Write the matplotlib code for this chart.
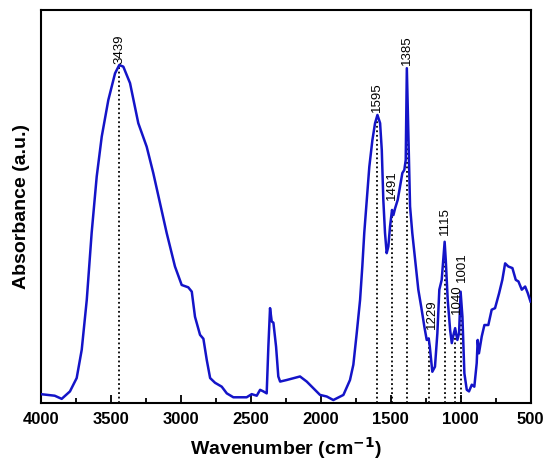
import numpy as np
import matplotlib
matplotlib.use('Agg')
import matplotlib.pyplot as plt

plt.rcParams['font.family'] = ['Liberation Sans', 'DejaVu Sans']

# spectrum (wavenumber, absorbance a.u.)
wavenumber = np.array([
    4000, 3900, 3850, 3791, 3743, 3707, 3671, 3636, 3600, 3564, 3517, 3469,
    3439, 3410, 3362, 3303, 3243, 3196, 3148, 3100, 3041, 2993, 2946, 2921,
    2898, 2862, 2838, 2814, 2790, 2755, 2707, 2671, 2624, 2529, 2493, 2457,
    2433, 2410, 2386, 2374, 2362, 2350, 2338, 2319, 2303, 2290, 2243, 2148,
    2100, 2053, 2005, 1957, 1910, 1838, 1791, 1767, 1743, 1719, 1703, 1689,
    1671, 1653, 1631, 1612, 1595, 1576, 1564, 1553, 1541, 1529, 1517, 1505,
    1491, 1481, 1469, 1450, 1434, 1417, 1403, 1393, 1385, 1374, 1362, 1346,
    1326, 1303, 1279, 1260, 1243, 1229, 1221, 1203, 1184, 1167, 1153, 1136,
    1115, 1107, 1093, 1076, 1064, 1052, 1040, 1024, 1012, 1001, 988, 974,
    957, 941, 921, 903, 886, 879, 870, 850, 831, 803, 779, 755, 726, 703,
    683, 660, 631, 607, 588, 564, 540, 521, 502])
absorbance = np.array([
    0.023, 0.019, 0.011, 0.030, 0.064, 0.136, 0.263, 0.434, 0.577, 0.679, 0.772, 0.840,
    0.861, 0.857, 0.815, 0.713, 0.653, 0.586, 0.509, 0.433, 0.348, 0.301, 0.295, 0.284,
    0.220, 0.174, 0.164, 0.110, 0.064, 0.052, 0.042, 0.025, 0.015, 0.015, 0.023, 0.019,
    0.034, 0.030, 0.025, 0.144, 0.242, 0.208, 0.205, 0.144, 0.068, 0.055, 0.059, 0.068,
    0.055, 0.038, 0.021, 0.017, 0.008, 0.021, 0.059, 0.098, 0.178, 0.263, 0.348, 0.434,
    0.518, 0.602, 0.670, 0.713, 0.734, 0.713, 0.645, 0.518, 0.434, 0.382, 0.399, 0.450,
    0.492, 0.479, 0.496, 0.518, 0.551, 0.586, 0.594, 0.619, 0.853, 0.688, 0.501, 0.433,
    0.365, 0.289, 0.238, 0.195, 0.161, 0.165, 0.144, 0.080, 0.093, 0.178, 0.289, 0.314,
    0.411, 0.365, 0.263, 0.187, 0.153, 0.174, 0.191, 0.161, 0.178, 0.284, 0.220, 0.076,
    0.034, 0.030, 0.047, 0.042, 0.102, 0.161, 0.127, 0.170, 0.199, 0.199, 0.238, 0.242,
    0.280, 0.314, 0.356, 0.348, 0.344, 0.314, 0.310, 0.289, 0.297, 0.280, 0.259])

peaks = [3439, 1595, 1491, 1385, 1229, 1115, 1040, 1001]
# label gap above each peak (points) and small sideways shift
label_gap = [1, 2, 7, 2, 7, 5, 10, 7]
label_dx = [0, 0, 0, 0, 2, 0, 1, 1]

fig = plt.figure(figsize=(5.5, 4.76), dpi=100)
ax = fig.add_axes([0.074, 0.153, 0.891, 0.825])

ax.plot(wavenumber, absorbance, color='#1414c8', lw=1.8, zorder=3)

# interpolate the peak heights from the trace
wn_r = wavenumber[::-1]
ab_r = absorbance[::-1]
for p, gap, dx in zip(peaks, label_gap, label_dx):
    h = np.interp(p, wn_r, ab_r)
    ax.vlines(p, 0, h, colors='black', linestyles=(0, (1, 1.5)), lw=1.3, zorder=2)
    ax.annotate(str(p), xy=(p, h), xytext=(dx, gap), textcoords='offset points',
                rotation=90, ha='center', va='bottom', fontsize=9.5)

ax.set_xlim(4000, 500)
ax.set_ylim(0, 1)
ax.set_xticks(np.arange(4000, 499, -500))
ax.set_xticks(np.arange(3750, 500, -500), minor=True)
ax.set_yticks([])
ax.tick_params(axis='x', which='major', direction='in', length=6, width=1.3,
               labelsize=12, pad=6)
ax.tick_params(axis='x', which='minor', direction='in', length=3.5, width=1.3)
for lab in ax.get_xticklabels():
    lab.set_fontweight('bold')
for s in ax.spines.values():
    s.set_linewidth(1.5)

ax.set_xlabel('Wavenumber (cm$^{\\mathbf{-1}}$)', fontsize=14, fontweight='bold', labelpad=6)
ax.set_ylabel('Absorbance (a.u.)', fontsize=14, fontweight='bold', labelpad=8)

fig.savefig('out.png', dpi=100)
